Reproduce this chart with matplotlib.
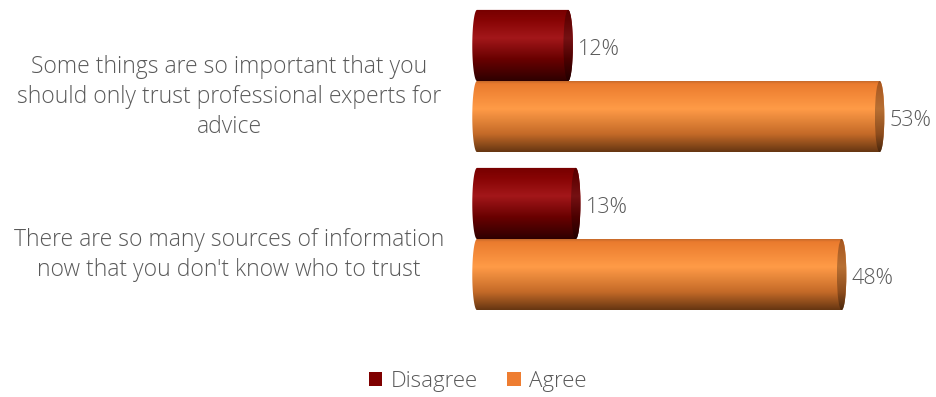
import numpy as np
import matplotlib
matplotlib.use("Agg")
import matplotlib.pyplot as plt
from matplotlib.path import Path
from matplotlib.patches import PathPatch, Ellipse, Patch
from matplotlib.colors import to_rgb
from matplotlib.transforms import blended_transform_factory

plt.rcParams['font.family'] = ['Open Sans', 'DejaVu Sans']

categories = ["Some things are so important that you\nshould only trust professional experts for\nadvice",
              "There are so many sources of information\nnow that you don't know who to trust"]
series = ["Disagree", "Agree"]
disagree = [12, 13]
agree = [53, 48]
value_labels = [["12%", "13%"], ["53%", "48%"]]

TXT = "#595959"
FS = 16
BAR_H = 0.45
CAP = 0.62   # half width of the end ellipse, in % units

# vertical shading stops (position from top, colour)
shades = {
    "Disagree": [(0.0, "#760000"), (0.15, "#870404"), (0.4, "#a3171a"),
                 (0.7, "#680000"), (1.0, "#2e0000")],
    "Agree": [(0.0, "#b8642a"), (0.05, "#ea7b2e"), (0.4, "#ff9b47"),
              (0.75, "#c46a28"), (1.0, "#663612")],
}
legend_colors = {"Disagree": "#7f0000", "Agree": "#ee7d31"}


def gradient(stops, n=200, factor=1.0):
    pos = np.array([p for p, _ in stops])
    cols = np.array([to_rgb(c) for _, c in stops])
    t = np.linspace(0, 1, n)
    img = np.stack([np.interp(t, pos, cols[:, k]) for k in range(3)], axis=-1)
    return np.clip(img * factor, 0, 1)[:, None, :]


def cylinder(ax, y, value, stops):
    top, bot = y - BAR_H / 2, y + BAR_H / 2
    t = np.linspace(-np.pi / 2, np.pi / 2, 40)
    # right half-ellipse runs top -> bottom, left one bottom -> top
    right = np.column_stack([value + CAP * np.cos(t), y + BAR_H / 2 * np.sin(t)])
    left = np.column_stack([-CAP * np.cos(t), y - BAR_H / 2 * np.sin(t)])
    verts = np.vstack([[0, top], right, [0, bot], left, [0, top]])
    body = PathPatch(Path(verts, closed=True), facecolor="none", edgecolor="none")
    ax.add_patch(body)
    im = ax.imshow(gradient(stops), extent=(-CAP, value + CAP, bot, top),
                   aspect="auto", interpolation="bilinear", zorder=2)
    im.set_clip_path(body)
    cap = Ellipse((value, y), 2 * CAP, BAR_H, facecolor="none", edgecolor="none")
    ax.add_patch(cap)
    im2 = ax.imshow(gradient(stops, factor=0.72), extent=(value - CAP, value + CAP, bot, top),
                    aspect="auto", interpolation="bilinear", zorder=3)
    im2.set_clip_path(cap)


fig = plt.figure(figsize=(9.36, 3.97), dpi=100)
# x axis: 7.6 px per %, zero at x=477 px
ax = fig.add_axes([(477 - 15.2) / 936, 1 - 318 / 397, 471 / 936, 316 / 397])

for i in range(len(categories)):
    for j, (name, vals) in enumerate([("Disagree", disagree), ("Agree", agree)]):
        yc = i + (j - 0.5) * BAR_H
        cylinder(ax, yc, vals[i], shades[name])
        ax.annotate(value_labels[j][i], (vals[i] + CAP, yc), xytext=(4, -3),
                    textcoords="offset points", ha="left", va="center",
                    fontsize=15.5, color=TXT, fontweight="light")

ax.set_xlim(-2, 60)
ax.set_ylim(1.5, -0.5)
ax.axis("off")

# category labels sit left of the bars, centred in the free space
trans = blended_transform_factory(fig.transFigure, ax.transData)
for i, lab in enumerate(categories):
    ax.text(229 / 936, i + 0.1, lab, transform=trans,
            ha="center", va="center", multialignment="center",
            fontsize=16.5, color=TXT, linespacing=1.32, fontweight="light")

handles = [Patch(facecolor=legend_colors[s], edgecolor="none") for s in series]
fig.legend(handles, series, loc="center", bbox_to_anchor=(478 / 936, 1 - 381 / 397),
           ncol=2, frameon=False, prop={"size": FS, "weight": "light"}, labelcolor=TXT,
           handlelength=0.6, handleheight=0.6, handletextpad=0.4, columnspacing=1.3)

fig.savefig("out.png", dpi=100)
